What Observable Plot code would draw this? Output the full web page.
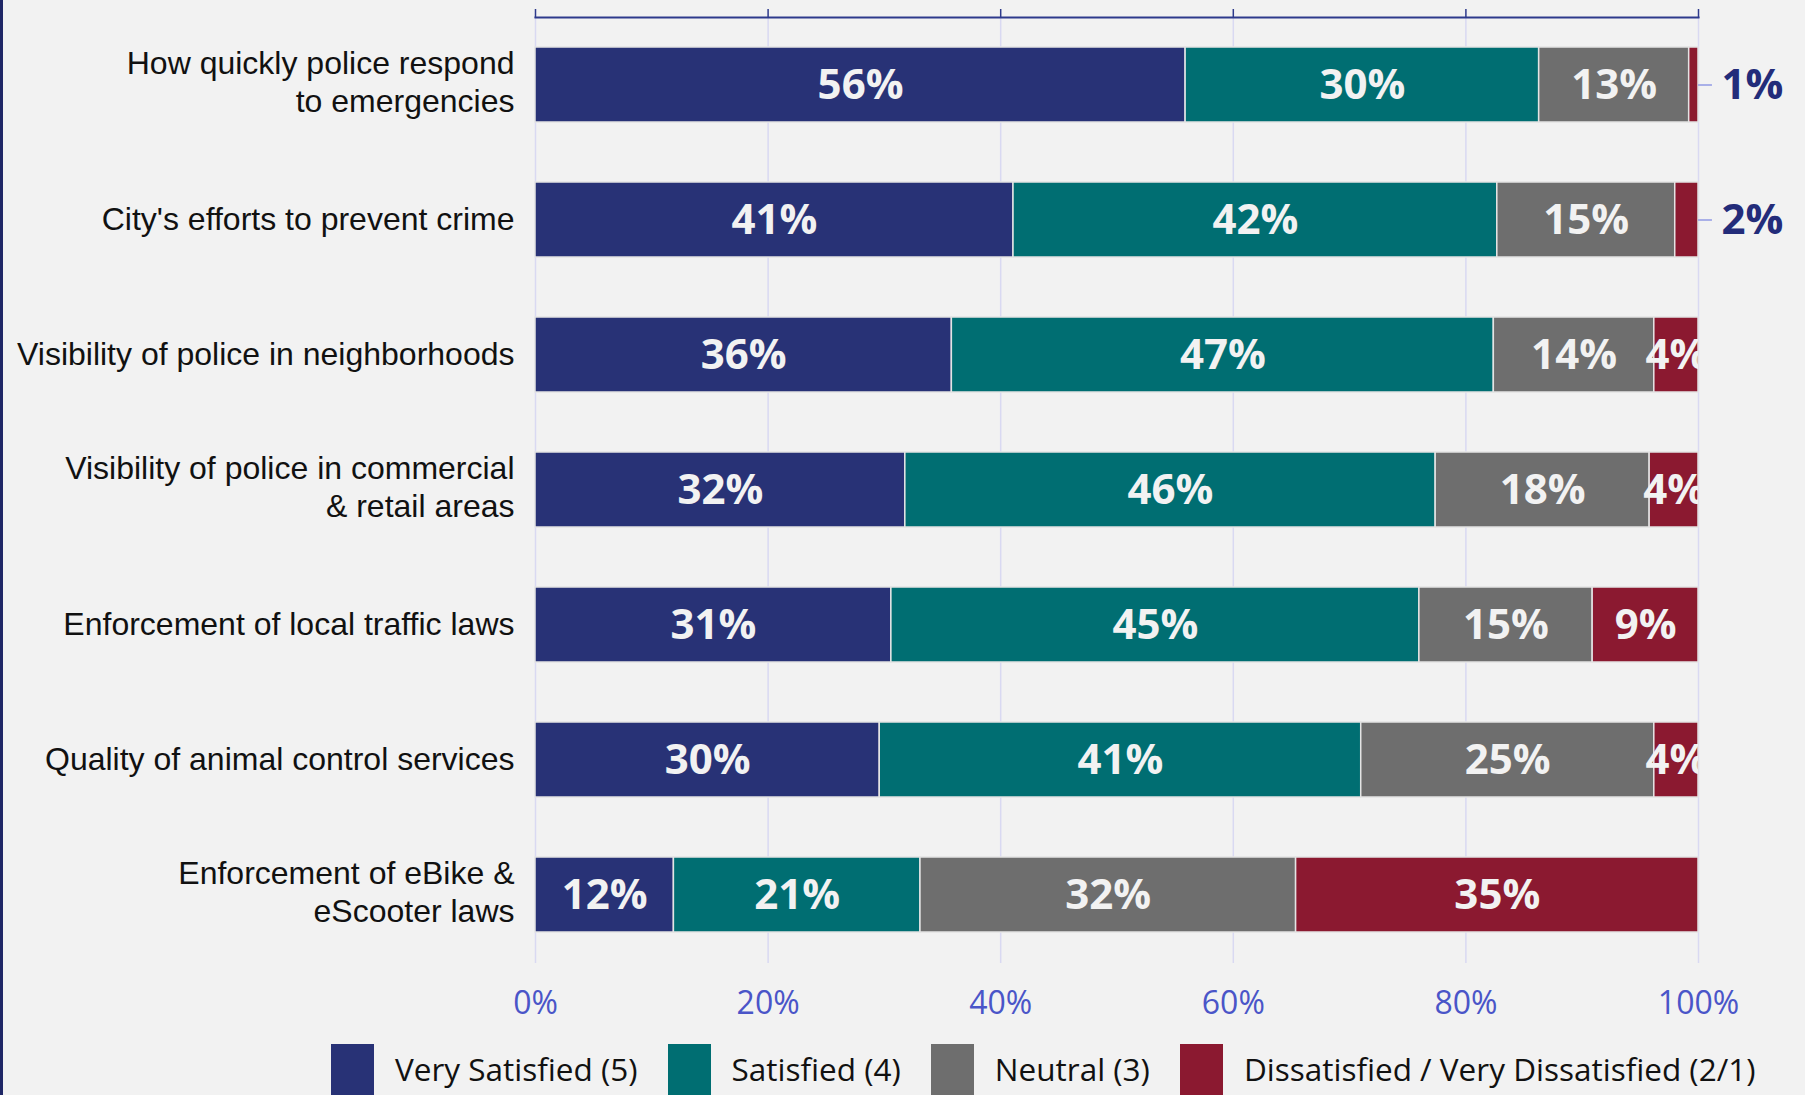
<!DOCTYPE html>
<html><head><meta charset="utf-8">
<script src="https://cdn.jsdelivr.net/npm/d3@7"></script>
<script src="https://cdn.jsdelivr.net/npm/@observablehq/plot@0.6"></script>
<style>
html,body{margin:0;padding:0;background:#f2f2f2;overflow:hidden;width:1805px;height:1095px;}
#border{position:absolute;left:0;top:0;width:3px;height:1095px;background:#1f2766;z-index:5;}
#chart{position:absolute;left:0;top:0;}
#legend{position:absolute;top:1044px;left:331px;display:flex;gap:30px;font-family:"Open Sans",sans-serif;font-size:31.5px;color:#111;}
.item{display:flex;gap:21px;align-items:flex-start;}
.sw{width:43px;height:60px;}
.lab{line-height:50px;white-space:nowrap;}
</style></head>
<body>
<div id="border"></div>
<div id="chart"></div>
<div id="legend"></div>
<script>
const questions = [
  "How quickly police respond\nto emergencies",
  "City's efforts to prevent crime",
  "Visibility of police in neighborhoods",
  "Visibility of police in commercial\n& retail areas",
  "Enforcement of local traffic laws",
  "Quality of animal control services",
  "Enforcement of eBike &\neScooter laws"
];
const categories = ["Very Satisfied (5)", "Satisfied (4)", "Neutral (3)", "Dissatisfied / Very Dissatisfied (2/1)"];
const colors = ["#283276", "#006e72", "#6e6e6e", "#8b1930"];
const verySatisfied = [55.9, 41.1, 35.8, 31.8, 30.6, 29.6, 11.9];
const satisfied     = [30.4, 41.6, 46.6, 45.6, 45.4, 41.4, 21.2];
const neutral       = [12.9, 15.3, 13.8, 18.4, 14.9, 25.2, 32.3];
const dissatisfied  = [0.8,  2.0,  3.8,  4.2,  9.1,  3.8,  34.6];
const ticks = [0, 20, 40, 60, 80, 100];

const series = [verySatisfied, satisfied, neutral, dissatisfied];
const data = [];
questions.forEach((q, i) => series.forEach((s, j) => data.push({question: q, category: categories[j], value: s[i]})));
const isOutside = d => d.category === categories[3] && d.value < 3;
const outside = data.filter(isOutside);
const singleLine = questions.filter(q => !q.includes("\n"));
const multiLine = questions.filter(q => q.includes("\n"));
const labelFont = "'Open Sans', sans-serif";
const catFont = "'Liberation Sans', Arial, sans-serif";

const plot = Plot.plot({
  width: 1805,
  height: 1040,
  marginTop: 17,
  marginBottom: 77,
  marginLeft: 535,
  marginRight: 107,
  style: {background: "transparent", overflow: "visible"},
  x: {domain: [0, 100]},
  y: {domain: questions, paddingInner: 0.444, paddingOuter: 0.222},
  color: {domain: categories, range: colors},
  marks: [
    Plot.gridX({ticks, stroke: "#d9d9f2", strokeOpacity: 1, strokeWidth: 1.5}),
    Plot.barX(data, Plot.stackX({x: "value", y: "question", fill: "category", order: categories, stroke: "#e4e4e4", strokeWidth: 1.5})),
    Plot.text(data, Plot.stackX({
      x: "value", y: "question", z: "category", order: categories,
      text: d => isOutside(d) ? "" : Math.round(d.value) + "%",
      fill: "#f2f2f2", fontSize: 42, fontWeight: 700, fontFamily: labelFont, dy: 1, clip: "frame"
    })),
    Plot.ruleY(outside, {y: "question", x1: 100, x2: 101.2, stroke: "#a9b0e8", strokeWidth: 2}),
    Plot.text(outside, {y: "question", x: () => 100, dx: 23, textAnchor: "start", text: d => Math.round(d.value) + "%", fill: "#232c7a", fontSize: 42, fontWeight: 700, fontFamily: labelFont, dy: 1}),
    Plot.frame({anchor: "top", stroke: "#2e3a8c", strokeWidth: 2}),
    Plot.axisX({anchor: "top", ticks, tickSize: 9, tickFormat: () => "", stroke: "#2e3a8c", strokeWidth: 1.5, label: null}),
    Plot.axisX({anchor: "bottom", ticks, tickSize: 0, tickPadding: 28, tickFormat: d => d + "%", fill: "#4a55c8", fontSize: 32, fontFamily: labelFont, label: null}),
    Plot.axisY({ticks: singleLine, tickSize: 0, tickPadding: 21, fontSize: 32, fill: "#111", fontFamily: catFont, label: null}),
    Plot.axisY({ticks: multiLine, tickSize: 0, tickPadding: 21, fontSize: 32, lineHeight: 1.17, dy: -4, fill: "#111", fontFamily: catFont, label: null})
  ]
});
document.getElementById("chart").appendChild(plot);

const legend = document.getElementById("legend");
categories.forEach((c, i) => {
  const item = document.createElement("div");
  item.className = "item";
  const sw = document.createElement("div");
  sw.className = "sw";
  sw.style.background = colors[i];
  const lab = document.createElement("div");
  lab.className = "lab";
  lab.textContent = c;
  item.appendChild(sw);
  item.appendChild(lab);
  legend.appendChild(item);
});
</script>
</body></html>
